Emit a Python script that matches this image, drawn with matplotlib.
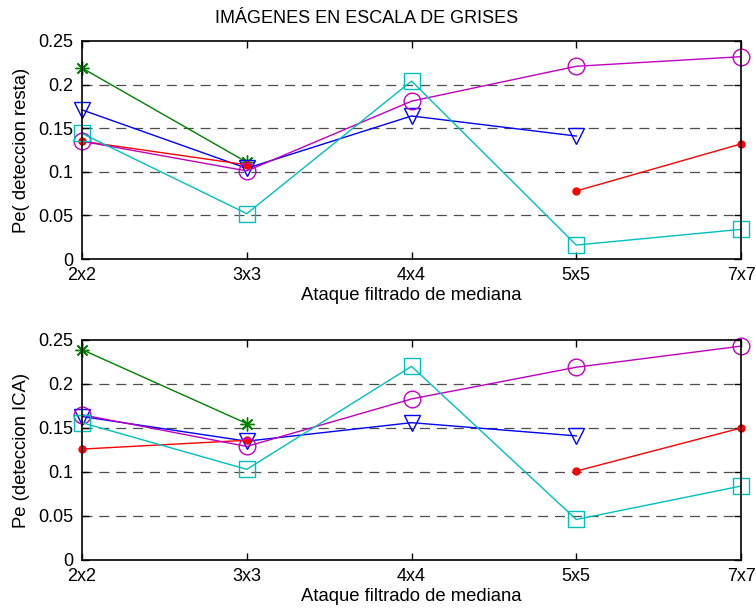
import numpy as np
import matplotlib.pyplot as plt

plt.rcParams['font.family'] = ['Liberation Sans', 'DejaVu Sans']

tamanos = ['2x2', '3x3', '4x4', '5x5', '7x7']
nan = np.nan

# Pe con deteccion por resta
resta_verde = [0.219, 0.111, nan, nan, nan]
resta_azul = [0.171, 0.104, 0.164, 0.141, nan]
resta_rojo = [0.135, 0.108, nan, 0.078, 0.132]
resta_magenta = [0.135, 0.101, 0.181, 0.221, 0.232]
resta_cian = [0.144, 0.052, 0.204, 0.016, 0.034]

# Pe con deteccion ICA
ica_verde = [0.239, 0.155, nan, nan, nan]
ica_azul = [0.163, 0.135, 0.156, 0.141, nan]
ica_rojo = [0.126, 0.136, nan, 0.101, 0.150]
ica_magenta = [0.165, 0.129, 0.183, 0.219, 0.243]
ica_cian = [0.156, 0.103, 0.220, 0.046, 0.084]

# color, marcador, tamano, relleno
estilos = [
    ('#008000', (8, 2, 0), 10, 'none'),
    ('#0000ff', 'v', 12, 'none'),
    ('#ff0000', '.', 10, '#ff0000'),
    ('#c000c0', 'o', 12, 'none'),
    ('#00bfbf', 's', 12, 'none'),
]


def dibujar(ax, series, ylabel):
    x = np.arange(len(tamanos))
    for y, (c, m, ms, fc) in zip(series, estilos):
        ax.plot(x, y, color=c, marker=m, markersize=ms, markerfacecolor=fc,
                markeredgewidth=1.0, linewidth=1.0, clip_on=False)
    for g in [0.05, 0.1, 0.15, 0.2]:
        ax.axhline(g, color='#222222', linestyle=(0, (8, 5.5)), linewidth=0.9, alpha=0.8, zorder=0)
    ax.set_xlim(0, 4)
    ax.set_ylim(0, 0.25)
    ax.set_xticks(x)
    ax.set_xticklabels(tamanos)
    ax.set_yticks([0, 0.05, 0.1, 0.15, 0.2, 0.25])
    ax.set_yticklabels(['0', '0.05', '0.1', '0.15', '0.2', '0.25'])
    ax.tick_params(direction='in', top=True, right=True, labelsize=13, length=5, width=1)
    ax.tick_params(axis='x', pad=6)
    ax.tick_params(axis='y', pad=6)
    ax.set_xlabel('Ataque filtrado de mediana', fontsize=13.3, labelpad=2)
    ax.set_ylabel(ylabel, fontsize=13.3, labelpad=6)
    for s in ax.spines.values():
        s.set_linewidth(1.2)


fig = plt.figure(figsize=(7.56, 6.1), dpi=100)
ax1 = fig.add_axes([0.1085, 0.5754, 0.8717, 0.3574])
ax2 = fig.add_axes([0.1085, 0.0820, 0.8717, 0.3607])

dibujar(ax1, [resta_verde, resta_azul, resta_rojo, resta_magenta, resta_cian], 'Pe( deteccion resta)')
dibujar(ax2, [ica_verde, ica_azul, ica_rojo, ica_magenta, ica_cian], 'Pe (deteccion ICA)')
fig.text(0.4855, 0.970, 'IMÁGENES EN ESCALA DE GRISES', fontsize=13, ha='center', va='center')

fig.savefig('out.png', dpi=100)
